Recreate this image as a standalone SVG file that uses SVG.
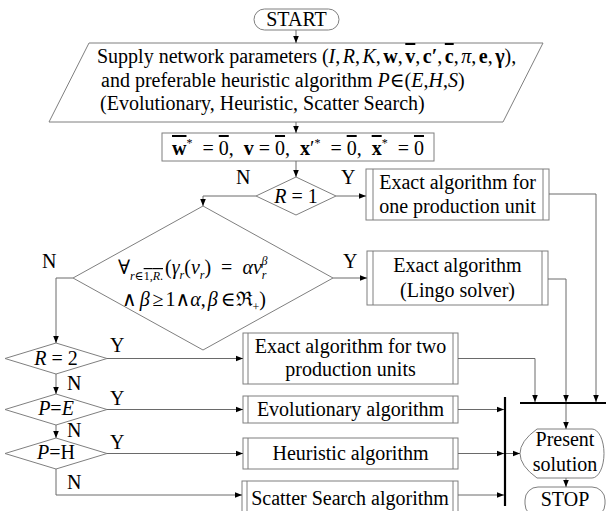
<svg xmlns="http://www.w3.org/2000/svg" width="606" height="511" viewBox="0 0 606 511" font-family="'Liberation Serif', 'Times New Roman', Tinos, 'DejaVu Serif', serif">
<defs>
<marker id="a" viewBox="0 0 10 10" refX="10" refY="5" markerWidth="7" markerHeight="7" markerUnits="userSpaceOnUse" orient="auto"><path d="M0,1 L10,5 L0,9 z" fill="#000"/></marker>
<style>
.s{fill:#fff;stroke:#7f7f7f;stroke-width:1}
.l{fill:none;stroke:#7f7f7f;stroke-width:1}
.c{fill:none;stroke:#6a6a6a;stroke-width:1;marker-end:url(#a)}
.bar{fill:none;stroke:#000;stroke-width:2.2}
.t{font-family:'Liberation Serif','Times New Roman',Tinos,'DejaVu Serif',serif;font-size:20px;fill:#000}
.m{text-anchor:middle}
.i{font-style:italic}
.b{font-weight:bold}
.sm{font-size:12px}
.o{text-decoration:overline}
</style>
</defs>
<rect width="606" height="511" fill="#fff"/>
<g id="start">
<rect class="s" x="254" y="9" width="85" height="21" rx="10.5"/>
<text class="t m" x="296.5" y="26">START</text>
</g>
<g id="input">
<polygon class="s" points="89,43 543,43 503,122 49,122"/>
<text class="t" x="97" y="63">Supply network parameters (<tspan class="i">I</tspan>,<tspan class="i" dx="2.5">R</tspan>,<tspan class="i" dx="2.5">K</tspan>,<tspan class="b" dx="2.5">w</tspan>,<tspan class="b o" dx="2.5">v</tspan>,<tspan class="b" dx="2.5">c′</tspan>,<tspan class="b o" dx="2.5">c</tspan>,<tspan class="i" dx="2.5">π</tspan>,<tspan class="b" dx="2.5">e</tspan>,<tspan class="b" dx="2.5">γ</tspan>),</text>
<text class="t" x="101" y="87">and preferable heuristic algorithm <tspan class="i">P</tspan>∈(<tspan class="i">E</tspan>,<tspan class="i">H</tspan>,<tspan class="i">S</tspan>)</text>
<text class="t" x="100" y="110">(Evolutionary, Heuristic, Scatter Search)</text>
</g>
<g id="init">
<rect class="s" x="162" y="133" width="272" height="28"/>
<text class="t m" x="298" y="155"><tspan class="b o">w</tspan><tspan class="sm" dy="-8">*</tspan><tspan dy="8">&#160;&#160;=&#160;</tspan><tspan class="o">0</tspan>,&#160;&#160;<tspan class="b">v</tspan>&#160;=&#160;<tspan class="o">0</tspan>,&#160;&#160;<tspan class="b">x</tspan>′<tspan class="sm" dy="-8">*</tspan><tspan dy="8">&#160;&#160;=&#160;</tspan><tspan class="o">0</tspan>,&#160;&#160;<tspan class="b o">x</tspan><tspan class="sm" dy="-8">*</tspan><tspan dy="8">&#160;&#160;=&#160;</tspan><tspan class="o">0</tspan></text>
</g>
<g id="dec-r1">
<polygon class="s" points="296,177 336,196 296,215 256,196"/>
<text class="t m" x="296" y="203"><tspan class="i">R</tspan> = 1</text>
</g>
<g id="exact-one">
<rect class="s" x="366" y="169" width="183" height="51"/>
<line class="l" x1="373" y1="169" x2="373" y2="220"/>
<line class="l" x1="543" y1="169" x2="543" y2="220"/>
<text class="t m" x="457.5" y="189">Exact algorithm for</text>
<text class="t m" x="457.5" y="213">one production unit</text>
</g>
<g id="dec-power">
<polygon class="s" points="203,206 333,278 203,350 73,278"/>
<text class="t" x="118" y="274">∀<tspan class="sm" dy="6"><tspan class="i">r</tspan>∈<tspan class="o">1,<tspan class="i">R</tspan>.</tspan></tspan><tspan dy="-6" dx="2">(</tspan><tspan class="i">γ</tspan><tspan class="sm i" dy="5">r</tspan><tspan dy="-5">(</tspan><tspan class="i">v</tspan><tspan class="sm i" dy="5">r</tspan><tspan dy="-5">)&#160;&#160;=&#160;&#160;</tspan><tspan class="i">αv</tspan><tspan class="sm i" dy="5">r</tspan><tspan class="sm i" dx="-5" dy="-14">β</tspan></text>
<text class="t" x="122" y="306">∧<tspan class="i" dx="3">β</tspan><tspan dx="3">≥</tspan><tspan dx="2">1</tspan>∧<tspan class="i">α</tspan>,<tspan class="i" dx="2">β</tspan><tspan dx="3">∈</tspan>ℜ<tspan class="sm" dy="5">+</tspan><tspan dy="-5">)</tspan></text>
</g>
<g id="exact-lingo">
<rect class="s" x="367" y="251" width="181" height="54"/>
<line class="l" x1="373" y1="251" x2="373" y2="305"/>
<line class="l" x1="542" y1="251" x2="542" y2="305"/>
<text class="t m" x="457.5" y="272">Exact algorithm</text>
<text class="t m" x="457.5" y="297">(Lingo solver)</text>
</g>
<g id="dec-r2">
<polygon class="s" points="56,343 107,358.5 56,374 5,358.5"/>
<text class="t m" x="56" y="365"><tspan class="i">R</tspan> = 2</text>
</g>
<g id="exact-two">
<rect class="s" x="243" y="333" width="215" height="51"/>
<line class="l" x1="248" y1="333" x2="248" y2="384"/>
<line class="l" x1="453" y1="333" x2="453" y2="384"/>
<text class="t m" x="350.5" y="353">Exact algorithm for two</text>
<text class="t m" x="350.5" y="376">production units</text>
</g>
<g id="dec-pe">
<polygon class="s" points="56,394 107,409.5 56,425 5,409.5"/>
<text class="t m" x="56" y="415"><tspan class="i">P</tspan>=<tspan class="i">E</tspan></text>
</g>
<g id="evo">
<rect class="s" x="243" y="396" width="215" height="27"/>
<line class="l" x1="248" y1="396" x2="248" y2="423"/>
<line class="l" x1="453" y1="396" x2="453" y2="423"/>
<text class="t m" x="350.5" y="416">Evolutionary algorithm</text>
</g>
<g id="dec-ph">
<polygon class="s" points="56,438 107,453.5 56,469 5,453.5"/>
<text class="t m" x="56" y="459"><tspan class="i">P</tspan>=H</text>
</g>
<g id="heur">
<rect class="s" x="243" y="438" width="215" height="31"/>
<line class="l" x1="248" y1="438" x2="248" y2="469"/>
<line class="l" x1="453" y1="438" x2="453" y2="469"/>
<text class="t m" x="350.5" y="460">Heuristic algorithm</text>
</g>
<g id="scatter">
<rect class="s" x="242" y="481" width="216" height="32"/>
<line class="l" x1="247" y1="481" x2="247" y2="513"/>
<line class="l" x1="453" y1="481" x2="453" y2="513"/>
<text class="t m" x="350" y="505">Scatter Search algorithm</text>
</g>
<g id="present">
<path class="s" d="M537,429 H592 A12,24.5 0 0 1 592,478 H537 Q503,453.5 537,429 Z"/>
<text class="t m" x="565" y="446">Present</text>
<text class="t m" x="565" y="471">solution</text>
</g>
<g id="stop">
<rect class="s" x="525" y="487" width="80" height="30" rx="13"/>
<text class="t m" x="565" y="506">STOP</text>
</g>
<g id="connectors">
<line class="c" x1="296" y1="30" x2="296" y2="43"/>
<line class="c" x1="296" y1="122" x2="296" y2="133"/>
<line class="c" x1="296" y1="161" x2="296" y2="177"/>
<line class="c" x1="336" y1="196" x2="366" y2="196"/>
<polyline class="c" points="256,196 203,196 203,206"/>
<line class="c" x1="333" y1="278" x2="367" y2="278"/>
<polyline class="c" points="73,278 56,278 56,343"/>
<line class="c" x1="107" y1="358.5" x2="243" y2="358.5"/>
<line class="c" x1="56" y1="374" x2="56" y2="394"/>
<line class="c" x1="107" y1="409.5" x2="243" y2="409.5"/>
<line class="c" x1="56" y1="425" x2="56" y2="438"/>
<line class="c" x1="107" y1="453.5" x2="243" y2="453.5"/>
<polyline class="c" points="56,469 56,495 242,495"/>
<polyline class="c" points="549,194 596,194 596,402"/>
<polyline class="c" points="548,279 566,279 566,402"/>
<polyline class="c" points="458,358.5 535,358.5 535,402"/>
<line class="c" x1="458" y1="409.5" x2="504" y2="409.5"/>
<line class="c" x1="458" y1="453.5" x2="504" y2="453.5"/>
<line class="c" x1="458" y1="495" x2="504" y2="495"/>
<line class="c" x1="506" y1="453.5" x2="520" y2="453.5"/>
<line class="c" x1="566" y1="404" x2="566" y2="429"/>
<line class="c" x1="566" y1="478" x2="566" y2="487"/>
<line class="bar" x1="505" y1="397" x2="505" y2="506"/>
<line class="bar" x1="520" y1="403" x2="606" y2="403"/>
<text class="t" x="236" y="184">N</text>
<text class="t" x="341" y="184">Y</text>
<text class="t" x="343" y="268">Y</text>
<text class="t" x="42" y="268">N</text>
<text class="t" x="110" y="352">Y</text>
<text class="t" x="67" y="390">N</text>
<text class="t" x="110" y="405">Y</text>
<text class="t" x="67" y="437">N</text>
<text class="t" x="110" y="449">Y</text>
<text class="t" x="67" y="489">N</text>
</g>
</svg>
